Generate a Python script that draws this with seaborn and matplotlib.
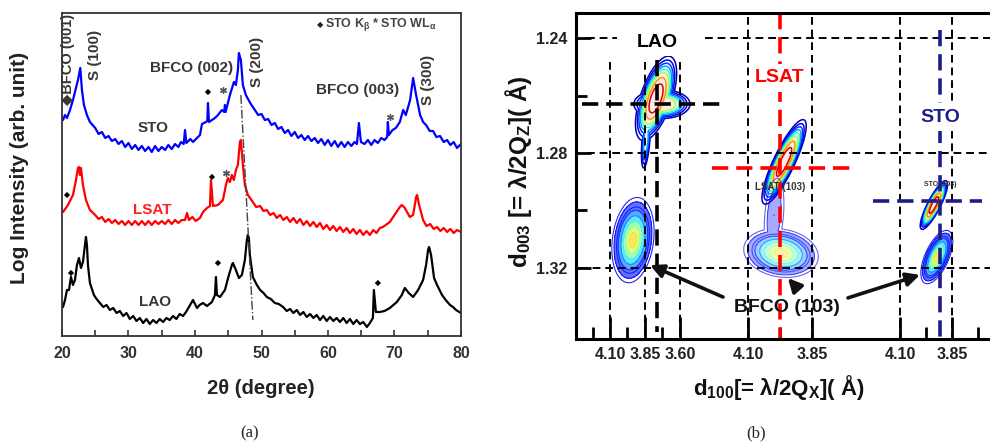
import numpy as np
import pandas as pd
import matplotlib
matplotlib.use('Agg')
import matplotlib.pyplot as plt
from matplotlib.ticker import MultipleLocator
import seaborn as sns

# ---------------- (a) XRD theta-2theta scans, (2theta [deg], log I [arb.])
sto_scan = [(20.15, 216), (20.45, 221), (20.75, 218), (21.2, 226), (21.65, 236), (22.1, 248),
            (22.4, 256), (22.75, 268), (23.0, 246), (23.3, 231), (23.75, 221), (24.2, 214),
            (25.0, 208), (25.5, 202), (26.0, 204), (26.5, 198), (27.0, 200), (27.5, 195),
            (28.0, 197), (28.5, 192), (29.0, 195), (29.5, 189), (30.0, 193), (30.5, 187),
            (31.0, 191), (31.5, 186), (32.0, 190), (32.5, 185), (33.0, 189), (33.5, 184),
            (34.0, 190), (34.5, 185), (35.0, 189), (35.5, 186), (36.0, 191), (36.5, 187),
            (37.0, 192), (37.5, 189), (37.9, 194), (38.3, 192), (38.5, 206), (38.7, 193),
            (39.3, 197), (39.7, 194), (40.0, 196), (40.75, 201), (41.05, 212), (41.65, 214),
            (41.85, 215), (41.95, 233), (42.1, 214), (42.55, 216), (43.0, 218), (43.45, 221),
            (44.05, 226), (44.4, 224), (44.5, 231), (44.6, 224), (45.25, 241), (45.85, 254),
            (46.15, 251), (46.45, 266), (46.6, 283), (46.9, 276), (47.2, 251), (47.65, 241),
            (48.3, 233), (49.0, 226), (49.5, 221), (50.0, 222), (50.5, 216), (51.0, 217),
            (51.5, 211), (52.0, 213), (52.5, 207), (53.0, 209), (53.5, 203), (54.0, 206),
            (54.5, 200), (55.0, 204), (55.5, 198), (56.0, 201), (56.5, 196), (57.0, 200),
            (57.5, 195), (58.0, 198), (58.5, 193), (59.0, 197), (59.5, 191), (60.0, 196),
            (60.5, 190), (61.0, 195), (61.5, 189), (62.0, 194), (62.5, 189), (63.0, 194),
            (63.5, 190), (64.0, 194), (64.35, 192), (64.65, 213), (64.95, 194), (65.5, 192),
            (66.0, 196), (66.5, 191), (67.0, 196), (67.5, 193), (68.0, 198), (68.5, 196),
            (68.9, 199), (69.0, 214), (69.15, 201), (69.7, 206), (70.2, 208), (70.8, 214),
            (71.3, 226), (71.7, 221), (72.35, 236), (72.8, 258), (73.25, 241), (73.85, 221),
            (74.3, 214), (74.75, 211), (75.3, 205), (75.8, 205), (76.3, 199), (76.85, 200),
            (77.4, 194), (77.9, 196), (78.4, 191), (78.9, 194), (79.4, 188), (80.0, 192)]
lsat_scan = [(20.15, 124), (20.9, 131), (21.65, 141), (22.1, 156), (22.4, 168), (22.55, 169),
             (22.7, 161), (22.85, 168), (23.15, 151), (23.6, 136), (24.2, 126), (25.0, 121),
             (25.5, 117), (26.0, 119), (26.5, 114), (27.0, 117), (27.5, 113), (28.0, 116),
             (28.5, 112), (29.0, 115), (29.5, 111), (30.0, 115), (30.5, 111), (31.0, 115),
             (31.5, 111), (32.0, 115), (32.5, 111), (33.0, 115), (33.5, 111), (34.0, 115),
             (34.5, 112), (35.0, 115), (35.5, 112), (36.0, 116), (36.5, 112), (37.0, 116),
             (37.5, 113), (38.0, 116), (38.5, 116), (38.8, 123), (39.1, 116), (39.6, 119),
             (40.1, 115), (40.75, 118), (41.2, 124), (41.8, 128), (42.25, 130), (42.4, 156),
             (42.7, 130), (43.45, 131), (44.2, 136), (44.65, 151), (44.95, 158), (45.25, 154),
             (45.55, 161), (45.85, 156), (46.15, 166), (46.45, 171), (46.75, 194), (46.9, 196),
             (47.2, 171), (47.5, 151), (47.95, 141), (48.7, 134), (49.2, 129), (49.8, 130),
             (50.3, 125), (50.8, 126), (51.3, 121), (51.8, 123), (52.3, 118), (52.8, 121),
             (53.3, 116), (53.8, 119), (54.3, 114), (54.8, 118), (55.3, 113), (55.8, 117),
             (56.3, 111), (56.8, 115), (57.3, 110), (57.8, 114), (58.3, 109), (58.8, 113),
             (59.3, 107), (59.8, 111), (60.3, 106), (60.8, 110), (61.3, 105), (61.8, 109),
             (62.3, 104), (62.8, 108), (63.3, 103), (63.8, 107), (64.3, 102), (64.8, 106),
             (65.3, 101), (65.8, 105), (66.3, 101), (66.8, 106), (67.3, 103), (67.8, 108),
             (68.25, 109), (69.3, 114), (70.2, 123), (70.8, 129), (71.1, 131), (71.55, 128),
             (72.3, 119), (72.8, 121), (73.25, 139), (73.4, 141), (73.7, 131), (74.3, 116),
             (74.8, 110), (75.35, 112), (75.9, 107), (76.4, 109), (76.9, 105), (77.4, 108),
             (77.9, 104), (78.4, 107), (78.9, 103), (79.4, 106), (80.0, 104)]
lao_scan = [(20.15, 29), (20.45, 36), (20.75, 46), (21.05, 46), (21.35, 59), (21.65, 51),
            (21.95, 56), (22.25, 71), (22.55, 78), (22.85, 68), (23.15, 74), (23.45, 91),
            (23.6, 99), (23.75, 91), (23.9, 71), (24.2, 53), (24.8, 41), (25.2, 37),
            (25.7, 33), (26.2, 29), (26.7, 31), (27.2, 26), (27.7, 28), (28.2, 23),
            (28.7, 25), (29.2, 20), (29.7, 23), (30.2, 17), (30.7, 20), (31.2, 15),
            (31.7, 18), (32.2, 13), (32.7, 17), (33.2, 12), (33.7, 16), (34.2, 13),
            (34.7, 17), (35.2, 14), (35.7, 18), (36.2, 16), (36.7, 20), (37.2, 17),
            (37.7, 22), (38.2, 20), (38.65, 24), (39.7, 36), (40.3, 28), (40.7, 31),
            (41.2, 33), (41.8, 30), (42.55, 34), (43.0, 41), (43.15, 59), (43.3, 41),
            (43.75, 39), (44.5, 46), (45.1, 61), (45.55, 71), (45.7, 73), (46.15, 66),
            (46.6, 58), (47.05, 61), (47.5, 76), (47.8, 96), (47.95, 101), (48.1, 98),
            (48.25, 81), (48.7, 59), (49.3, 51), (49.8, 46), (50.3, 43), (50.8, 39),
            (51.4, 37), (52.0, 33), (52.6, 32), (53.25, 29), (53.8, 25), (54.3, 27),
            (54.8, 23), (55.3, 26), (55.8, 21), (56.3, 24), (56.8, 19), (57.3, 22),
            (57.8, 18), (58.3, 21), (58.8, 16), (59.3, 20), (59.8, 15), (60.3, 19),
            (60.8, 15), (61.3, 18), (61.8, 14), (62.3, 18), (62.8, 13), (63.3, 17),
            (63.8, 12), (64.3, 16), (64.8, 12), (65.3, 14), (65.85, 9), (66.3, 13),
            (66.75, 18), (66.9, 46), (67.2, 24), (67.8, 24), (68.5, 25), (69.3, 28),
            (70.35, 34), (71.1, 41), (71.55, 48), (72.15, 43), (72.8, 39), (73.55, 46),
            (74.3, 56), (74.75, 71), (75.05, 86), (75.2, 89), (75.5, 81), (75.95, 58),
            (76.4, 51), (77.15, 41), (77.7, 36), (78.35, 31), (78.8, 29), (79.25, 26),
            (80.0, 23)]
scan_names = ['STO', 'LSAT', 'LAO']
scan_colors = ['#0000ff', '#ff0000', '#000000']

# STO K-beta (diamond) and W L-alpha (star) lines
kb_2theta = [41.95, 20.75, 42.55, 21.35, 43.45, 67.5]
kb_logI = [244, 141, 159, 63, 73, 53]
wl_2theta = [44.2, 69.3, 44.65]
wl_logI = [246, 219, 163]

# ---------------- (b) reciprocal space maps around (103)
map_names = ['LAO', 'LSAT', 'STO']
map_colors = ['#000000', '#ff0000', '#1c1c8a']
sub_d100 = [3.764, 3.975, 3.908]      # substrate cross-hair
sub_d003 = [1.263, 1.2852, 1.2967]
# peaks: map index, d100, d003, widths, tilt, relative amplitude
peak_id = ['LAO', 'LAO', 'LAO', 'BFCO/LAO', 'LSAT', 'BFCO/LSAT', 'BFCO/LSAT', 'STO', 'BFCO/STO']
peak_map = [0, 0, 0, 0, 1, 1, 1, 2, 2]
peak_d100 = [3.771, 3.729, 3.843, 3.936, 3.959, 3.971, 3.998, 3.937, 3.923]
peak_d003 = [1.2610, 1.2630, 1.2755, 1.3103, 1.2831, 1.3148, 1.3016, 1.2981, 1.3162]
peak_w100 = [0.085, 0.12, 0.021, 0.057, 0.05, 0.055, 0.023, 0.038, 0.029]
peak_w003 = [0.0085, 0.003, 0.0063, 0.0056, 0.0085, 0.0032, 0.0077, 0.0049, 0.0035]
peak_tilt = [-0.6, 0.0, -0.5, -0.2, -0.85, 0.15, -0.3, -0.85, -0.6]
peak_amp = [1.0, 0.7, 0.35, 1.0, 1.0, 1.0, 0.12, 1.0, 1.0]
bfco_arrow_map = [0, 1, 2]
bfco_arrow_d100 = [3.814, 3.944, 4.004]
bfco_arrow_d003 = [1.3190, 1.3235, 1.3224]
major_d100 = [[4.10, 3.85, 3.60], [4.10, 3.85], [4.10, 3.85]]
minor_d100 = [[4.225, 3.975, 3.725], [3.975], [3.975, 3.725]]

# each map sits on its own stretch of one shared x axis
map_origin = [610, 748, 900]   # axis position of d100 = 4.10
map_scale = [140, 256, 208]    # axis units per angstrom


def to_axis(m, d):
    return map_origin[m] + (4.10 - np.asarray(d)) * map_scale[m]


sns.set_theme(style='white')
plt.rcParams['font.family'] = ['Liberation Sans', 'DejaVu Sans']
plt.rcParams['mathtext.fontset'] = 'custom'
plt.rcParams['mathtext.rm'] = 'Liberation Sans'
plt.rcParams['mathtext.bf'] = 'Liberation Sans:bold'
plt.rcParams['mathtext.it'] = 'Liberation Sans:italic'
plt.rcParams['mathtext.default'] = 'bf'
TXT = '#3b3631'

fig = plt.figure(figsize=(9.9, 4.44), dpi=100)
axa = fig.add_axes([62 / 990, 1 - 336 / 444, 399 / 990, 323 / 444])
axb = fig.add_axes([576 / 990, 1 - 339 / 444, 424 / 990, 326 / 444])

# ---------------- panel (a)
for name, scan, col in zip(scan_names, [sto_scan, lsat_scan, lao_scan], scan_colors):
    df = pd.DataFrame(scan, columns=['two_theta', 'logI'])
    sns.lineplot(data=df, x='two_theta', y='logI', ax=axa, color=col, lw=1.6,
                 sort=False, estimator=None)
axa.plot([46.9, 48.7], [241, 16], color='#444444', lw=1, ls='-.')
sns.scatterplot(x=kb_2theta, y=kb_logI, ax=axa, marker='D', s=10, color='black',
                edgecolor='none')
sns.scatterplot(x=wl_2theta, y=wl_logI, ax=axa, marker=(6, 2, 0), s=18, color='#555555',
                linewidth=1)

axa.set_xlim(20, 80)
axa.set_ylim(0, 323)
axa.set_xticks(range(20, 81, 10))
axa.xaxis.set_minor_locator(MultipleLocator(5))
axa.set_yticks([])
axa.tick_params(axis='x', which='both', direction='in', length=4, width=1.2, color='#333333',
                bottom=True, labelsize=11.5, labelcolor='#333333', pad=7)
for lab in axa.get_xticklabels():
    lab.set_fontweight('bold')
axa.set_xlabel('')
axa.set_ylabel('')
for sp in axa.spines.values():
    sp.set_color('#333333')
    sp.set_linewidth(1.3)

ann = dict(fontsize=11, fontweight='bold', color=TXT, ha='center', va='center')
axa.text(39.55, 268, 'BFCO (002)', **ann)
axa.text(64.5, 246, 'BFCO (003)', **ann)
axa.text(24.95, 281, 'S (100)', rotation=90, **ann)
axa.text(49.3, 274, 'S (200)', rotation=90, **ann)
axa.text(75.05, 256, 'S (300)', rotation=90, **ann)
axa.text(20.9, 231, '\u25c6BFCO (001)', rotation=90, fontsize=10.5, fontweight='bold',
         color=TXT, ha='center', va='bottom', clip_on=False)
axa.text(33.7, 208, 'STO', **ann)
axa.text(33.55, 126, 'LSAT', **{**ann, 'color': '#ff2020'})
axa.text(34.0, 34, 'LAO', **ann)
axa.text(0.658, 0.963, 'STO K$_{\\beta}$ * STO WL$_{\\alpha}$', transform=axa.transAxes,
         fontsize=9, fontweight='bold', color='#444444', ha='left', va='center')
axa.text(0.656, 0.963, '\u25c6', transform=axa.transAxes, fontsize=6, color='#222222',
         ha='right', va='center', family='DejaVu Sans')

fig.text(20 / 990, 1 - 168 / 444, 'Log Intensity (arb. unit)', rotation=90, fontsize=15,
         fontweight='bold', ha='center', va='center', color='#222222')
fig.text(261 / 990, 1 - 388 / 444, '2\u03b8 (degree)', fontsize=14.5, fontweight='bold',
         ha='center', va='center', color='#222222')

# ---------------- panel (b)
xg = np.linspace(576, 1000, 900)
yg = np.linspace(1.2313, 1.3447, 700)
X, Y = np.meshgrid(xg, yg)
fields = {}
for pid, m, d1, d3, w1, w3, r, a in zip(peak_id, peak_map, peak_d100, peak_d003,
                                        peak_w100, peak_w003, peak_tilt, peak_amp):
    u = (X - to_axis(m, d1)) / (w1 * map_scale[m])
    v = (Y - d3) / w3
    q = (u ** 2 - 2 * r * u * v + v ** 2) / (1 - r ** 2)
    shape = 1.0 if pid.startswith('BFCO') else 1.7
    f = a * np.exp(-0.5 * q ** shape)
    fields[pid] = np.maximum(fields.get(pid, 0), f)

for pid, F in fields.items():
    F = F / F.max()
    if pid.startswith('BFCO'):
        fade = 0.35 if pid == 'BFCO/LSAT' else 0.6
        axb.contourf(X, Y, F, levels=[0.06, 0.18, 0.32, 0.5, 0.7, 0.9, 1.01], cmap='jet',
                     vmin=-0.1, vmax=1.45, alpha=fade)
        axb.contour(X, Y, F, levels=[0.03, 0.06, 0.12, 0.18, 0.32], cmap='jet', vmin=-0.1,
                    vmax=1.45, linewidths=0.8, alpha=fade + 0.25)
    else:
        axb.contourf(X, Y, F, levels=[0.5, 1.01], colors=['#fde8e0'], alpha=0.8)
        axb.contour(X, Y, F, levels=[0.04, 0.1, 0.18, 0.28, 0.4, 0.55, 0.75, 0.92],
                    cmap='jet', vmin=0, vmax=1, linewidths=1.1)

# grid of dashed guide lines
dash = dict(color='black', lw=1.4, dashes=(4, 2.5))
axb.axhline(1.24, xmin=0.026, xmax=0.097, **dash)
axb.axhline(1.24, xmin=0.304, xmax=1, **dash)
axb.axhline(1.28, xmin=0.026, xmax=1, **dash)
axb.axhline(1.32, xmin=0.009, xmax=1, **dash)
for m in range(3):
    top = 1.2483 if m == 0 else 1.2327
    for d in major_d100[m]:
        axb.plot([to_axis(m, d)] * 2, [top, 1.3447], **dash)

# substrate cross-hairs
cross_v = [(1.2477, 1.3423), (1.2313, 1.3447), (1.2372, 1.3447)]
cross_h = [(-75, 68), (-68, 70), (-67, 42)]
for m in range(3):
    cx = to_axis(m, sub_d100[m])
    ld = dict(color=map_colors[m], lw=2.6, dashes=(4.5, 2.2))
    axb.plot([cx, cx], cross_v[m], **ld)
    axb.plot([cx + cross_h[m][0], cx + cross_h[m][1]], [sub_d003[m]] * 2, **ld)

lab_d003 = [1.2414, 1.2539, 1.2675]
for m in range(3):
    axb.text(to_axis(m, sub_d100[m]), lab_d003[m], map_names[m], color=map_colors[m],
             fontsize=14, fontweight='bold', ha='center', va='center',
             bbox=dict(facecolor='white', edgecolor='none', pad=4))
axb.text(to_axis(1, sub_d100[1]), 1.2918, 'LSAT (103)', fontsize=7, fontweight='bold',
         color='#333333', ha='center', va='center')
axb.text(to_axis(2, sub_d100[2]), 1.2911, 'STO (103)', fontsize=5, fontweight='bold',
         color='#333333', ha='center', va='center')

axb.text(787, 1.3339, 'BFCO (103)', fontsize=14, fontweight='bold', color='#111111',
         ha='center', va='center')
starts = [(723, 1.3301), (797, 1.3270), (848, 1.3304)]
for (sx, sy), m, d1, d3 in zip(starts, bfco_arrow_map, bfco_arrow_d100, bfco_arrow_d003):
    axb.annotate('', xy=(to_axis(m, d1), d3), xytext=(sx, sy),
                 arrowprops=dict(arrowstyle='-|>', lw=2.6, color='#111111',
                                 mutation_scale=20, shrinkA=0, shrinkB=0))

axb.set_xlim(576, 1000)
axb.set_ylim(1.3447, 1.2313)
maj = np.concatenate([to_axis(m, major_d100[m]) for m in range(3)])
mino = np.concatenate([to_axis(m, minor_d100[m]) for m in range(3)])
axb.set_xticks(maj)
axb.set_xticklabels([f'{d:.2f}' for m in range(3) for d in major_d100[m]])
axb.set_xticks(mino, minor=True)
axb.set_yticks([1.24, 1.28, 1.32])
axb.set_yticklabels(['1.24', '1.28', '1.32'])
axb.set_yticks([1.26, 1.30], minor=True)
axb.tick_params(axis='x', which='major', direction='in', length=16, width=2, pad=6)
axb.tick_params(axis='x', which='minor', direction='in', length=9, width=2)
axb.tick_params(axis='y', which='major', direction='in', length=11, width=2, pad=6)
axb.tick_params(axis='y', which='minor', direction='in', length=8, width=2)
axb.tick_params(which='both', color='black', bottom=True, left=True)
for lab in axb.get_xticklabels() + axb.get_yticklabels():
    lab.set_fontweight('bold')
    lab.set_fontsize(11.5)
    lab.set_color('#222222')
axb.set_xlabel('')
axb.set_ylabel('')
for sp in axb.spines.values():
    sp.set_color('black')
    sp.set_linewidth(2.2)

fig.text(518 / 990, 1 - 172 / 444, 'd$_{003}$ [= \u03bb/2Q$_{Z}$]( \u00c5)', rotation=90,
         fontsize=17.5, fontweight='bold', ha='center', va='center', color='#111111')
fig.text(779 / 990, 1 - 387 / 444, 'd$_{100}$[= \u03bb/2Q$_{X}$]( \u00c5)', fontsize=16,
         fontweight='bold', ha='center', va='center', color='#111111')

fig.text(250 / 990, 1 - 433 / 444, '(a)', fontsize=12, family='Liberation Serif',
         ha='center', va='center')
fig.text(756 / 990, 1 - 433 / 444, '(b)', fontsize=12, family='Liberation Serif',
         ha='center', va='center')

fig.savefig('out.png', dpi=100)
